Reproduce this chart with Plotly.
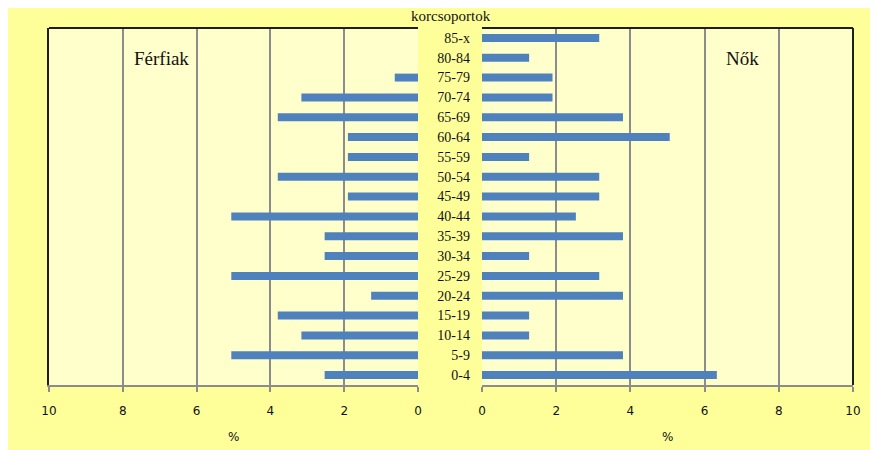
import plotly.graph_objects as go

age_groups = ["0-4", "5-9", "10-14", "15-19", "20-24", "25-29", "30-34", "35-39",
              "40-44", "45-49", "50-54", "55-59", "60-64", "65-69", "70-74", "75-79",
              "80-84", "85-x"]
men_pct = [2.53, 5.06, 3.16, 3.80, 1.27, 5.06, 2.53, 2.53, 5.06, 1.90, 3.80, 1.90,
           1.90, 3.80, 3.16, 0.63, 0.0, 0.0]
women_pct = [6.33, 3.80, 1.27, 1.27, 3.80, 3.16, 1.27, 3.80, 2.53, 3.16, 3.16, 1.27,
             5.06, 3.80, 1.90, 1.90, 1.27, 3.16]
x_ticks = [0, 2, 4, 6, 8, 10]

# page offset (body margin) and figure geometry in page pixels
OFF = 8
W, H = 872 - OFF, 450 - OFF
ML, MR, MT, MB = 49 - OFF, 872 - 853, 28 - OFF, 450 - 385
PW = W - ML - MR
PH = H - MT - MB


def px(x):
    return (x - OFF - ML) / PW


def py(y):
    return (H - MB - (y - OFF)) / PH


BAR = "#4F81BD"
GRID = "#8C8C8C"
DARK = "#1E1E1E"
SERIF = "Liberation Serif"
SANS = "DejaVu Sans"

fig = go.Figure()
fig.add_trace(go.Bar(x=men_pct, y=age_groups, orientation="h", marker=dict(color=BAR, line=dict(width=0)),
                     width=0.4, xaxis="x", yaxis="y", showlegend=False))
fig.add_trace(go.Bar(x=women_pct, y=age_groups, orientation="h", marker=dict(color=BAR, line=dict(width=0)),
                     width=0.4, xaxis="x2", yaxis="y2", showlegend=False))

xcommon = dict(tickvals=x_ticks, showgrid=True, gridcolor=GRID, gridwidth=1.5,
               zeroline=False, showline=True, linecolor=GRID, linewidth=1.5,
               ticks="outside", ticklen=5, tickcolor=GRID, tickwidth=1.5, ticklabelstandoff=9,
               tickfont=dict(family=SANS, size=12, color="#111"), fixedrange=True)

fig.update_layout(
    width=W, height=H,
    margin=dict(l=ML, r=MR, t=MT, b=MB, pad=0),
    paper_bgcolor="#FFFF99",
    plot_bgcolor="#FFFFCC",
    xaxis=dict(domain=[0, px(418)], autorange=False, range=[10, 0], anchor="y", **xcommon),
    yaxis=dict(type="category", categoryorder="array", categoryarray=age_groups,
               range=[-0.5, 17.5], showticklabels=False, showgrid=False, zeroline=False,
               showline=True, linecolor=DARK, linewidth=2, anchor="x", fixedrange=True),
    xaxis2=dict(domain=[px(482), 1], anchor="y2", range=[0, 10], **xcommon),
    yaxis2=dict(type="category", categoryorder="array", categoryarray=age_groups,
                range=[-0.5, 17.5], showticklabels=True, showgrid=False, zeroline=False,
                showline=False, side="left", anchor="x2", ticks="", ticklabelstandoff=11,
                tickfont=dict(family=SERIF, size=14, color="#111"), fixedrange=True),
    shapes=[
        dict(type="line", xref="x domain", yref="y domain", x0=0, x1=1, y0=1, y1=1,
             line=dict(color=DARK, width=2)),
        dict(type="line", xref="x2 domain", yref="y2 domain", x0=0, x1=1, y0=1, y1=1,
             line=dict(color=DARK, width=2)),
        dict(type="line", xref="x2 domain", yref="y2 domain", x0=1, x1=1, y0=0, y1=1,
             line=dict(color=DARK, width=2)),
    ],
    annotations=[
        dict(text="korcsoportok", xref="paper", yref="paper", x=px(451), y=py(16),
             showarrow=False, font=dict(family=SERIF, size=15, color="#111"),
             xanchor="center", yanchor="middle"),
        dict(text="Férfiak", xref="paper", yref="paper", x=px(161), y=py(58),
             showarrow=False, font=dict(family=SERIF, size=19, color="#111"),
             xanchor="center", yanchor="middle"),
        dict(text="Nők", xref="paper", yref="paper", x=px(742), y=py(58),
             showarrow=False, font=dict(family=SERIF, size=19, color="#111"),
             xanchor="center", yanchor="middle"),
        dict(text="%", xref="paper", yref="paper", x=px(233), y=py(437),
             showarrow=False, font=dict(family=SANS, size=12, color="#111"),
             xanchor="center", yanchor="middle"),
        dict(text="%", xref="paper", yref="paper", x=px(667), y=py(437),
             showarrow=False, font=dict(family=SANS, size=12, color="#111"),
             xanchor="center", yanchor="middle"),
    ],
)

fig.write_html("out.html")
